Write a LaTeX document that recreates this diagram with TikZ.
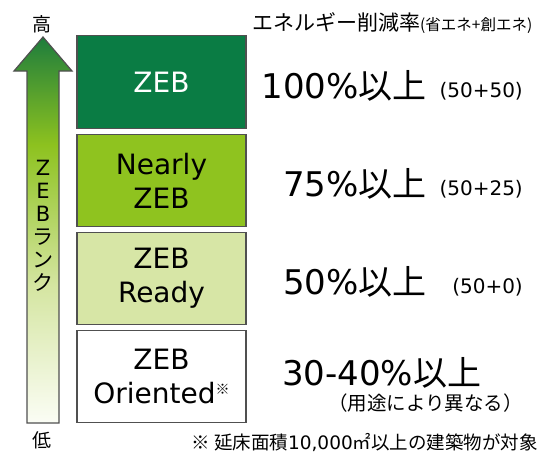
\documentclass[tikz,border=0pt]{standalone}
\usepackage{fontspec}
\setmainfont{DejaVu Sans}
\newfontfamily\jp{Noto Sans CJK JP}
\definecolor{zebdark}{HTML}{0A7C44}
\definecolor{zebmid}{HTML}{8FC31F}
\definecolor{zeblight}{HTML}{D7E6A6}
\definecolor{edgegray}{HTML}{505050}
\definecolor{arTop}{HTML}{1E7D3C}
\definecolor{arLime}{HTML}{8DC21F}
\definecolor{arPale}{HTML}{D4E5A0}
\definecolor{arBot}{HTML}{FBFDF5}
\pgfdeclareverticalshading{rankshade}{100bp}{color(0bp)=(arBot); color(25bp)=(arBot); color(43bp)=(arPale); color(61bp)=(arLime); color(75bp)=(arTop); color(100bp)=(arTop)}
\tikzset{
  box/.style={draw=edgegray, line width=1.3pt, minimum width=169pt, minimum height=92.5pt, inner sep=0pt, align=center, font=\fontsize{28}{34}\selectfont},
  big/.style={anchor=base east, inner sep=0pt, font=\fontsize{34}{34}\selectfont},
  small/.style={anchor=base east, inner sep=0pt, font=\fontsize{20}{20}\selectfont},
}
\begin{document}
\begin{tikzpicture}[x=1pt,y=-1pt]
\useasboundingbox (0,0) rectangle (540,455);
% arrow
\path[draw=edgegray, line width=1.2pt, shading=rankshade]
  (43,37) -- (72,71) -- (59,71) -- (59,423) -- (27,423) -- (27,71) -- (14,71) -- cycle;
\node[inner sep=0pt, font=\jp\fontsize{19}{19}\selectfont] (hi) at (42,24) {高};
\node[inner sep=0pt, font=\jp\fontsize{19}{19}\selectfont] (lo) at (42,440) {低};
\node[inner sep=0pt, align=center, font=\fontsize{21}{23}\selectfont] (rank) at (43,226)
  {Z\\E\\B\\{\jp ラ}\\{\jp ン}\\{\jp ク}};
% boxes
\node[box, fill=zebdark, text=white] (b1) at (161.5,82) {ZEB};
\node[box, fill=zebmid] (b2) at (161.5,180.5) {Nearly\\ZEB};
\node[box, fill=zeblight] (b3) at (161.5,278.5) {ZEB\\Ready};
\node[box, fill=white] (b4) at (161.5,376.5) {ZEB\\Oriented{\jp\fontsize{14}{14}\selectfont\raisebox{9pt}{※}}};
% header
\node[anchor=base west, inner sep=0pt, font=\jp\fontsize{21}{21}\selectfont] (head) at (252,30)
  {エネルギー削減率{\fontsize{15.5}{15.5}\selectfont (省エネ+創エネ)}};
% values
\node[big] (v1) at (427,98) {100\%{\jp 以上}};
\node[small] (p1) at (523,97) {(50+50)};
\node[big] (v2) at (427,196) {75\%{\jp 以上}};
\node[small] (p2) at (523,195) {(50+25)};
\node[big] (v3) at (427,294) {50\%{\jp 以上}};
\node[small] (p3) at (523,293) {(50+0)};
\node[anchor=base west, inner sep=0pt, font=\fontsize{34}{34}\selectfont] (v4) at (282,385) {30-40\%{\jp 以上}};
\node[anchor=base east, inner sep=0pt, font=\jp\fontsize{19.5}{19.5}\selectfont] (p4) at (523,410) {（用途により異なる）};
% footnote
\node[anchor=base east, inner sep=0pt, font=\jp\fontsize{18.5}{18.5}\selectfont] (note) at (538,449)
  {※ 延床面積{\fontspec{DejaVu Sans}10,000}㎡以上の建築物が対象};
\end{tikzpicture}
\end{document}
